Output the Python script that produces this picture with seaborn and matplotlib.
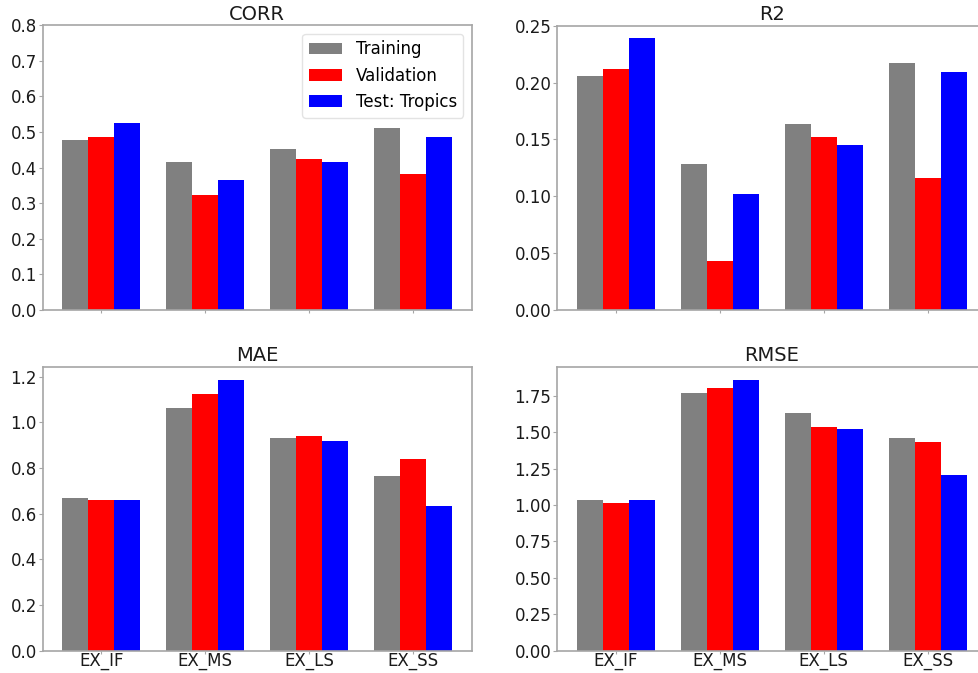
import numpy as np
import pandas as pd
import matplotlib
matplotlib.use("Agg")
import matplotlib.pyplot as plt
import seaborn as sns

# Experiments and evaluation splits
experiments = ["EX_IF", "EX_MS", "EX_LS", "EX_SS"]
splits = ["Training", "Validation", "Test: Tropics"]
split_colors = ["gray", "red", "blue"]

# Metric values per split (order follows `experiments`)
corr_training = [0.479, 0.417, 0.452, 0.511]
corr_validation = [0.486, 0.323, 0.423, 0.382]
corr_test = [0.526, 0.365, 0.417, 0.485]

r2_training = [0.206, 0.128, 0.164, 0.217]
r2_validation = [0.212, 0.043, 0.152, 0.116]
r2_test = [0.239, 0.102, 0.145, 0.209]

mae_training = [0.668, 1.063, 0.930, 0.764]
mae_validation = [0.658, 1.125, 0.938, 0.840]
mae_test = [0.658, 1.184, 0.916, 0.633]

rmse_training = [1.036, 1.772, 1.630, 1.461]
rmse_validation = [1.011, 1.804, 1.537, 1.436]
rmse_test = [1.038, 1.857, 1.525, 1.207]

metrics = {
    "CORR": (corr_training, corr_validation, corr_test),
    "R2": (r2_training, r2_validation, r2_test),
    "MAE": (mae_training, mae_validation, mae_test),
    "RMSE": (rmse_training, rmse_validation, rmse_test),
}


def long_table(series):
    rows = []
    for split, vals in zip(splits, series):
        for exp, v in zip(experiments, vals):
            rows.append({"experiment": exp, "split": split, "value": v})
    return pd.DataFrame(rows)


plt.rcParams.update({
    "font.family": "DejaVu Sans",
    "font.size": 12,
    "axes.edgecolor": "#a6a6a6",
    "xtick.color": "#a6a6a6",
    "ytick.color": "#a6a6a6",
    "xtick.labelcolor": "#1a1a1a",
    "ytick.labelcolor": "#1a1a1a",
    "xtick.labelsize": 12,
    "ytick.labelsize": 12,
    "xtick.major.size": 2.5,
    "xtick.major.pad": -1.5,
    "ytick.major.size": 3,
    "ytick.major.pad": 1.2,
})

W, H = 979, 673
fig = plt.figure(figsize=(W / 100, H / 100), dpi=100)

# axes boxes in pixels: left, top, width, height
boxes = {
    "CORR": (42.8, 25.3, 429.0, 284.7),
    "R2": (557.3, 25.8, 429.0, 284.2),
    "MAE": (42.8, 366.7, 429.0, 284.0),
    "RMSE": (557.3, 366.7, 429.0, 284.0),
}

palette = dict(zip(splits, split_colors))

for name, series in metrics.items():
    l, t, w, h = boxes[name]
    ax = fig.add_axes([l / W, 1 - (t + h) / H, w / W, h / H])
    df = long_table(series)
    sns.barplot(data=df, x="experiment", y="value", hue="split",
                hue_order=splits, order=experiments, palette=palette,
                saturation=1, width=0.75, linewidth=0, errorbar=None,
                legend=(name == "CORR"), ax=ax)
    ax.set_xlim(-0.5625, 3.5625)
    ax.set_xlabel("")
    ax.set_ylabel("")
    ax.set_title(name, fontsize=14, color="#1a1a1a", pad=4)
    if name == "CORR":
        ax.set_ylim(0, 0.8)
        ax.legend(loc="upper right", fontsize=12, title=None,
                  edgecolor="#dddddd")
    elif name == "R2":
        ax.set_ylim(0, 0.25)
        ticks = np.arange(0, 0.26, 0.05)
        ax.set_yticks(ticks)
        ax.set_yticklabels([f"{v:.2f}" for v in ticks])
    else:
        ax.margins(y=0.05)
        ax.set_ylim(0, None)
    if name in ("CORR", "R2"):
        ax.set_xticklabels([])
    for s in ax.spines.values():
        s.set_linewidth(1.2)

fig.savefig("out.png", dpi=100)
